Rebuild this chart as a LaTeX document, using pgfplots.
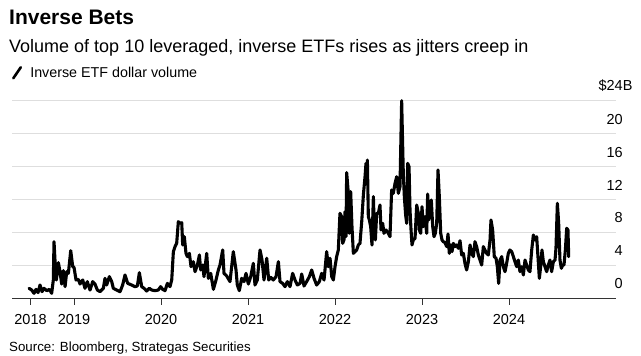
\documentclass[border=0pt]{standalone}
\usepackage{fontspec}
\setmainfont{Liberation Sans}
\usepackage{pgfplots}
\usepackage{pgfplotstable}
\pgfplotsset{compat=1.18}
\definecolor{gridc}{RGB}{222,222,222}
\pgfplotstableread{
x y
2018.483 1.18
2018.513 0.97
2018.540 0.57
2018.563 1.05
2018.586 0.65
2018.609 1.58
2018.632 0.77
2018.655 1.18
2018.686 0.89
2018.717 1.05
2018.743 0.57
2018.762 2.19
2018.770 6.85
2018.785 3.81
2018.797 2.19
2018.820 4.30
2018.839 3.20
2018.858 1.70
2018.877 3.33
2018.897 1.38
2018.916 3.20
2018.935 3.00
2018.962 5.76
2018.985 3.81
2019.000 3.73
2019.023 2.19
2019.050 2.27
2019.069 1.70
2019.100 2.19
2019.126 1.18
2019.153 1.99
2019.184 0.97
2019.215 1.99
2019.241 1.70
2019.268 0.97
2019.299 0.77
2019.337 1.18
2019.356 2.39
2019.375 1.58
2019.406 2.60
2019.433 1.99
2019.452 1.18
2019.490 0.97
2019.529 0.77
2019.559 1.58
2019.586 2.80
2019.617 1.78
2019.663 1.58
2019.701 1.38
2019.728 1.46
2019.751 3.08
2019.778 1.38
2019.805 1.18
2019.835 0.85
2019.866 1.18
2019.893 0.97
2019.931 0.89
2019.969 0.97
2019.996 1.38
2020.019 1.05
2020.046 0.89
2020.073 1.78
2020.103 1.38
2020.123 2.19
2020.142 5.64
2020.161 6.25
2020.180 6.65
2020.199 9.29
2020.218 9.08
2020.238 9.16
2020.249 6.45
2020.268 7.46
2020.287 5.43
2020.303 5.03
2020.326 5.43
2020.345 3.81
2020.372 4.42
2020.391 3.20
2020.418 4.01
2020.441 5.23
2020.456 3.41
2020.479 4.01
2020.494 2.60
2020.525 5.43
2020.544 2.39
2020.571 3.00
2020.602 1.05
2020.632 2.19
2020.659 3.41
2020.678 4.01
2020.709 5.84
2020.724 3.00
2020.755 2.68
2020.793 1.99
2020.831 5.64
2020.862 3.41
2020.877 1.58
2020.900 0.89
2020.927 2.39
2020.954 1.99
2020.977 3.00
2021.004 1.70
2021.031 2.60
2021.061 4.22
2021.080 1.58
2021.107 2.19
2021.138 5.84
2021.161 4.62
2021.184 2.19
2021.215 4.83
2021.238 2.19
2021.261 2.51
2021.291 2.19
2021.322 2.60
2021.349 4.42
2021.368 1.99
2021.398 1.78
2021.425 1.38
2021.452 1.99
2021.483 1.38
2021.513 3.00
2021.540 2.19
2021.567 1.58
2021.598 1.78
2021.617 2.92
2021.644 1.46
2021.674 1.99
2021.705 2.60
2021.732 3.41
2021.759 2.39
2021.789 1.58
2021.820 1.99
2021.847 3.00
2021.874 2.19
2021.904 5.64
2021.923 3.81
2021.943 4.83
2021.962 2.60
2021.981 2.19
2022.000 3.81
2022.019 5.03
2022.038 5.84
2022.057 10.30
2022.077 9.89
2022.088 6.65
2022.103 7.06
2022.115 10.50
2022.126 7.46
2022.134 15.25
2022.153 12.73
2022.165 7.87
2022.180 12.94
2022.195 8.68
2022.211 5.43
2022.230 5.64
2022.249 5.84
2022.268 6.45
2022.287 6.65
2022.307 9.29
2022.326 12.53
2022.345 14.76
2022.356 16.38
2022.364 14.56
2022.372 16.79
2022.383 9.89
2022.395 9.49
2022.410 8.68
2022.425 6.45
2022.441 12.33
2022.452 8.27
2022.464 7.06
2022.479 10.30
2022.498 10.30
2022.517 11.31
2022.529 8.27
2022.548 9.08
2022.563 7.87
2022.586 8.27
2022.613 7.87
2022.632 7.46
2022.651 13.14
2022.670 12.73
2022.690 13.95
2022.709 14.76
2022.728 12.73
2022.747 13.54
2022.766 24.00
2022.785 15.17
2022.797 12.33
2022.812 10.10
2022.824 9.08
2022.835 16.38
2022.851 15.98
2022.862 10.71
2022.874 8.27
2022.885 6.45
2022.900 7.06
2022.920 7.26
2022.939 11.31
2022.958 10.30
2022.969 8.27
2022.985 7.87
2023.000 11.11
2023.015 8.68
2023.034 9.89
2023.054 7.87
2023.065 12.65
2023.077 9.49
2023.092 11.11
2023.107 11.92
2023.123 8.68
2023.138 7.46
2023.153 7.87
2023.169 9.08
2023.184 15.57
2023.199 12.33
2023.215 7.87
2023.230 7.06
2023.245 6.85
2023.264 6.73
2023.284 6.25
2023.299 7.79
2023.314 5.43
2023.330 6.45
2023.345 5.64
2023.360 6.65
2023.379 6.25
2023.398 6.45
2023.418 6.04
2023.437 6.97
2023.456 5.23
2023.475 5.43
2023.494 4.22
2023.513 3.41
2023.533 4.42
2023.552 6.45
2023.571 5.43
2023.590 5.03
2023.609 6.85
2023.628 6.25
2023.648 5.23
2023.667 4.62
2023.686 4.01
2023.705 6.25
2023.724 5.84
2023.743 5.43
2023.762 5.23
2023.782 7.06
2023.793 9.49
2023.812 8.27
2023.831 5.03
2023.851 4.83
2023.866 3.81
2023.881 1.78
2023.897 4.62
2023.916 5.03
2023.935 3.81
2023.954 3.20
2023.973 4.22
2023.992 5.43
2024.011 5.84
2024.031 5.64
2024.050 5.03
2024.069 4.42
2024.088 3.81
2024.107 4.62
2024.126 3.20
2024.146 3.81
2024.165 2.80
2024.184 4.62
2024.203 4.01
2024.222 3.41
2024.241 3.20
2024.261 5.84
2024.280 7.66
2024.299 7.06
2024.318 7.46
2024.333 5.03
2024.349 2.39
2024.364 3.81
2024.379 5.84
2024.395 4.42
2024.414 3.81
2024.433 3.20
2024.452 4.01
2024.471 4.62
2024.490 3.20
2024.510 4.42
2024.529 4.62
2024.540 6.04
2024.556 11.52
2024.571 9.08
2024.586 4.62
2024.602 3.61
2024.617 4.01
2024.632 4.01
2024.648 5.84
2024.663 8.48
2024.678 8.27
2024.686 5.03
}\etfdata
\begin{document}
\begin{tikzpicture}
\path[fill=white] (0bp,0bp) rectangle (641bp,356bp);
\node[anchor=base west, inner sep=0pt, font=\fontsize{21bp}{24bp}\selectfont\bfseries] at (9bp,331bp) {Inverse Bets};
\node[anchor=base west, inner sep=0pt, font=\fontsize{18bp}{21bp}\selectfont] at (9bp,303bp) {Volume of top 10 leveraged, inverse ETFs rises as jitters creep in};
\node[anchor=base west, inner sep=0pt, font=\fontsize{13.3bp}{16bp}\selectfont] at (9bp,5bp) {Source: Bloomberg, Strategas Securities};
\begin{axis}[
  at={(12bp,58bp)}, anchor=south west,
  scale only axis, width=604bp, height=197.3bp,
  xmin=2018.287, xmax=2025.23, ymin=0, ymax=24,
  clip=false,
  axis x line*=bottom, axis y line*=right,
  x axis line style={-, black!80, line width=0.8bp},
  y axis line style={draw=none},
  xtick={2018.5,2019,2020,2021,2022,2023,2024},
  xticklabels={2018,2019,2020,2021,2022,2023,2024},
  ytick={0,4,8,12,16,20,24},
  yticklabels={0,4,8,12,16,20,{\makebox[0pt][r]{\$}24\makebox[0pt][l]{B}}},
  /pgf/number format/assume math mode=true,
  tick align=outside,
  major tick length=7bp,
  xtick style={black!80, line width=0.8bp},
  ytick style={draw=none},
  ymajorgrids, grid style={gridc, line width=1bp},
  ticklabel style={font=\fontsize{14.5bp}{17bp}\selectfont, text=black},
  xticklabel style={anchor=north, inner sep=0pt, yshift=-9bp},
  yticklabel style={anchor=south east, inner sep=0pt, yshift=9bp},
  legend style={at={(0,1)}, anchor=south west, draw=none, fill=none,
     inner sep=0pt, outer sep=0pt, yshift=20bp,
     font=\fontsize{14.3bp}{17bp}\selectfont},
  legend cell align=left,
  legend image code/.code={\path[draw=none] (0bp,0bp) -- (16bp,0bp);\draw[line width=2.6bp, line cap=round, black] (1bp,-5.5bp) -- (8.5bp,5.5bp);},
]
\addplot[black, line width=3.1bp, line join=round, line cap=round] table[x=x, y=y] {\etfdata};
\addlegendentry{Inverse ETF dollar volume}
\end{axis}
\end{tikzpicture}
\end{document}
